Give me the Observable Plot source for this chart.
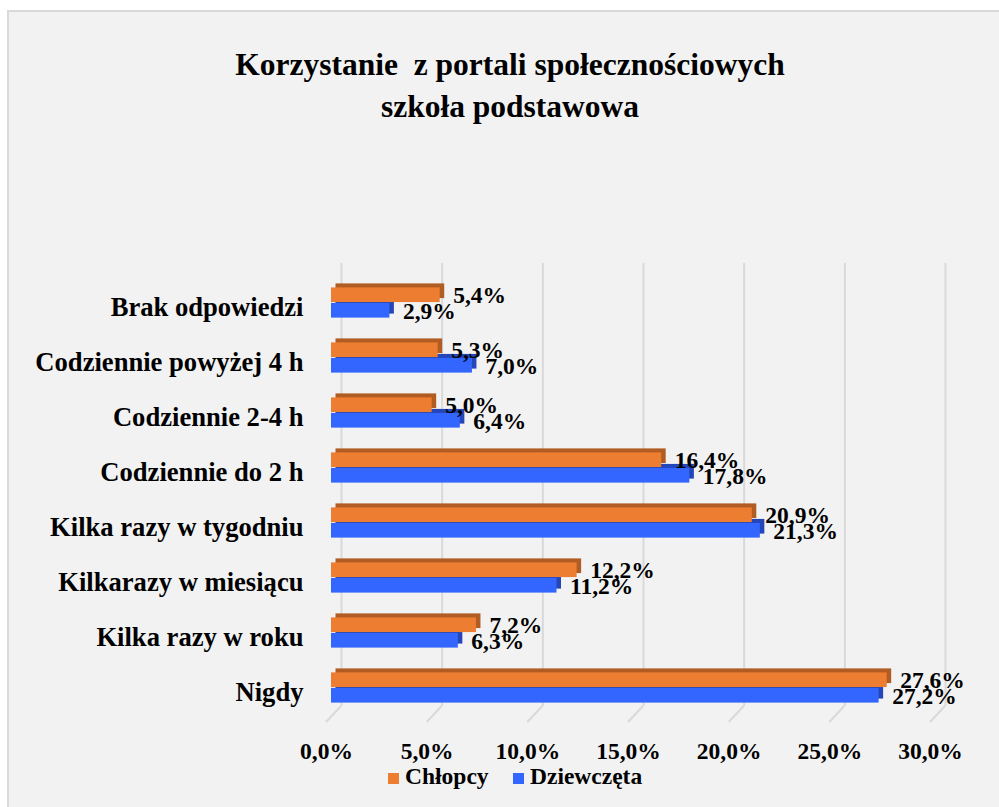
<!DOCTYPE html>
<html><head><meta charset="utf-8">
<script src="https://cdn.jsdelivr.net/npm/d3@7"></script>
<script src="https://cdn.jsdelivr.net/npm/@observablehq/plot@0.6"></script>
<style>
html,body{margin:0;padding:0;background:#fff;}
#wrap{position:relative;width:999px;height:807px;overflow:hidden;font-family:"Liberation Serif","Times New Roman",serif;font-weight:bold;color:#000;}
#frame{position:absolute;left:7px;top:10px;width:1010px;height:830px;background:#f2f2f2;border:2px solid #d9d9d9;box-sizing:border-box;}
#title{position:absolute;left:0;width:1020px;top:43.5px;text-align:center;font-size:31.5px;line-height:42px;white-space:pre;}
.sw{position:absolute;top:773px;width:11px;height:11px;}
.lt{position:absolute;top:764.6px;font-size:23.5px;line-height:23.5px;white-space:pre;}
#chart{position:absolute;left:0;top:0;}
</style></head>
<body>
<div id="wrap">
  <div id="frame"></div>
  <div id="title">Korzystanie  z portali społecznościowych
szkoła podstawowa</div>
  <div id="chart"></div>
  <div class="sw" style="left:388px;background:#ED7D31"></div>
  <div class="lt" style="left:405px" id="l1"></div>
  <div class="sw" style="left:513px;background:#3366FF"></div>
  <div class="lt" style="left:530px" id="l2"></div>
</div>
<script>
const categories = ["Brak odpowiedzi","Codziennie powyżej 4 h","Codziennie 2-4 h","Codziennie do 2 h","Kilka razy w tygodniu","Kilkarazy w miesiącu","Kilka razy w roku","Nigdy"];
const chlopcy = [5.4, 5.3, 5.0, 16.4, 20.9, 12.2, 7.2, 27.6];
const dziewczeta = [2.9, 7.0, 6.4, 17.8, 21.3, 11.2, 6.3, 27.2];
const seriesNames = ["Chłopcy", "Dziewczęta"];
const xTicks = [0, 5, 10, 15, 20, 25, 30];

document.getElementById("l1").textContent = seriesNames[0];
document.getElementById("l2").textContent = seriesNames[1];

const rows = categories.map((c, i) => ({category: c, chlopcy: chlopcy[i], dziewczeta: dziewczeta[i]}));
const fmt = v => v.toFixed(1).replace(".", ",") + "%";

const ORANGE = "#ED7D31", ORANGE_D = "#B05C22", BLUE = "#3366FF", BLUE_D = "#2446B8";

function floorLines(...args) {
  const scales = args.find(a => a && typeof a.x === "function");
  const dims = args.find(a => a && typeof a.marginBottom === "number" && typeof a.height === "number");
  const ns = "http://www.w3.org/2000/svg";
  const g = document.createElementNS(ns, "g");
  const yb = dims.height - dims.marginBottom;
  for (const t of xTicks) {
    const l = document.createElementNS(ns, "line");
    const xp = scales.x(t);
    l.setAttribute("x1", xp + 10); l.setAttribute("y1", yb - 12.5);
    l.setAttribute("x2", xp - 5); l.setAttribute("y2", yb + 3.5);
    l.setAttribute("stroke", "#d9d9d9"); l.setAttribute("stroke-width", 2);
    g.appendChild(l);
  }
  return g;
}

const inA = 12.4, inB = 27.93;
const chart = Plot.plot({
  width: 999, height: 807,
  marginLeft: 331, marginRight: 64, marginTop: 271.57, marginBottom: 88.5,
  style: {background: "transparent", fontFamily: "Liberation Serif, Times New Roman, serif", fontWeight: "bold", fontSize: "23.5px", color: "#000", overflow: "visible"},
  x: {domain: [0, 30], axis: null},
  y: {domain: categories, padding: 0, axis: null},
  marks: [
    Plot.ruleX(xTicks, {stroke: "#d9d9d9", strokeWidth: 2, dx: 10, insetTop: -8.6, insetBottom: 12.5}),
    floorLines,
    Plot.barX(rows, {x: "dziewczeta", y: "category", fill: BLUE_D, insetTop: inB, insetBottom: inA, dx: 4.5, dy: -4}),
    Plot.barX(rows, {x: "dziewczeta", y: "category", fill: BLUE, insetTop: inB, insetBottom: inA}),
    Plot.barX(rows, {x: "chlopcy", y: "category", fill: ORANGE_D, insetTop: inA, insetBottom: inB, dx: 4.5, dy: -4}),
    Plot.barX(rows, {x: "chlopcy", y: "category", fill: ORANGE, insetTop: inA, insetBottom: inB}),
    Plot.text(rows, {x: "chlopcy", y: "category", text: d => fmt(d.chlopcy), textAnchor: "start", dx: 13, dy: -7.5, fontSize: 23.5, fontWeight: "bold", fill: "#000"}),
    Plot.text(rows, {x: "dziewczeta", y: "category", text: d => fmt(d.dziewczeta), textAnchor: "start", dx: 13, dy: 8.5, fontSize: 23.5, fontWeight: "bold", fill: "#000"}),
    Plot.axisX(xTicks, {tickSize: 0, tickPadding: 23.5, tickFormat: fmt, dx: -5, fontSize: 23.5, fontWeight: "bold", fill: "#000", lineAnchor: "top", label: null}),
    Plot.axisY({tickSize: 0, tickPadding: 28, dy: 4, fontSize: 26.6, fontWeight: "bold", fill: "#000", label: null})
  ]
});
document.getElementById("chart").appendChild(chart);
</script>
</body></html>
